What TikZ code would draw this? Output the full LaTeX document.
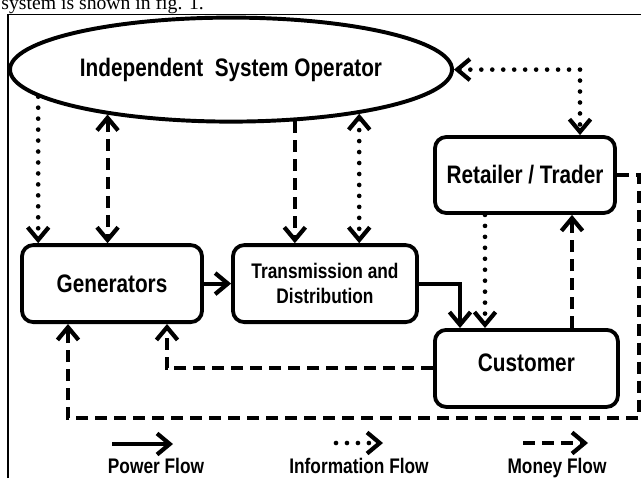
\documentclass[tikz,border=0pt]{standalone}
\usepackage{fontspec}
\setmainfont{Liberation Sans}[FakeStretch=0.82]
\newfontfamily\captionserif{Liberation Serif}
\usetikzlibrary{arrows.meta,shapes.geometric,positioning,calc}

\begin{document}
\begin{tikzpicture}[>={Straight Barb[length=9pt,width=15pt,line width=3pt]}]
\tikzstyle{process}=[draw, line width=2.7pt, rectangle, rounded corners=8pt, fill=white, minimum width=4.5cm, minimum height=1.925cm, inner sep=0pt, font=\bfseries\fontsize{18}{20}\selectfont, align=center]
\tikzstyle{process2}=[process, font=\bfseries\fontsize{15}{18}\selectfont]
\tikzstyle{operator}=[draw, line width=2.8pt, ellipse, fill=white, minimum width=11.05cm, minimum height=2.6cm, inner sep=0pt, font=\bfseries\fontsize{18}{20}\selectfont]
\tikzstyle{legendtext}=[anchor=base, font=\bfseries\fontsize{15}{18}\selectfont, inner sep=0pt]
\tikzstyle{powerArrow}=[line width=2.7pt]
\tikzstyle{infoArrow}=[line width=3.3pt, line cap=round, dash pattern=on 0pt off 7.8pt]
\tikzstyle{moneyArrow}=[line width=2.9pt, dash pattern=on 8.5pt off 5pt]

\useasboundingbox (0,0) rectangle (16.025,-11.95);
\node[anchor=base west, inner sep=0pt, font=\captionserif\fontsize{14}{16}\selectfont] (caption) at (0.03,-0.23) {system is shown in fig. 1.};
\draw[line width=1.4pt] (0.2,-11.95) |- (16.025,-0.3625);

\node[operator] (iso) at (5.775, -1.74) {Independent\ \ System Operator};
\node[process] (gen) at (2.8, -7.09) {Generators};
\node[process2, minimum width=4.6cm] (td) at (8.125, -7.09) {Transmission and\\Distribution};
\node[process, minimum height=1.9cm] (ret) at (13.125, -4.375) {Retailer / Trader};
\node[process, minimum width=4.575cm, text depth=0.3cm] (cus) at (13.16, -9.21) {Customer};
\coordinate (rc) at (15.975, -10.45);

% operator to the market players
\draw[infoArrow,->] (iso.188.7) -- (iso.188.7 |- gen.north);
\draw[moneyArrow,<->] (iso.200.4) -- (iso.200.4 |- gen.north);
\draw[moneyArrow,->] (iso.321.9) -- (iso.321.9 |- td.north);
\draw[infoArrow,<->] (iso.341.7) -- (iso.341.7 |- td.north);
\draw[infoArrow,<->] (iso.east) -| ([xshift=1.375cm]ret.north);

% power path
\draw[powerArrow,->] (gen) -- (td);
\draw[powerArrow,->] (td.east) -| ([xshift=-1.66cm]cus.north);

% retailer and customer
\draw[infoArrow,->] ([xshift=-1cm]ret.south) -- ([xshift=-1cm]ret.south |- cus.north);
\draw[moneyArrow,->] ([xshift=1.175cm]ret.south |- cus.north) -- ([xshift=1.175cm]ret.south);

% payments back to generators
\draw[moneyArrow,->] (cus.west) -| ([xshift=1.375cm]gen.south);
\draw[moneyArrow,->] (ret.east) -| (rc) -| ([xshift=-1.1cm]gen.south);

% legend
\coordinate (pa) at (2.8, -11.1);
\coordinate (pb) at (4.325, -11.1);
\coordinate (ia) at (8.4, -11.075);
\coordinate (ib) at (9.575, -11.075);
\coordinate (ma) at (13.075, -11.075);
\coordinate (mb) at (14.7, -11.075);
\draw[powerArrow,->] (pa) -- (pb);
\draw[infoArrow,->] (ia) -- (ib);
\draw[moneyArrow,->] (ma) -- (mb);
\node[legendtext] (pflow) at (3.9, -11.83) {Power Flow};
\node[legendtext] (iflow) at (8.975, -11.83) {Information Flow};
\node[legendtext] (mflow) at (13.925, -11.83) {Money Flow};

\end{tikzpicture}
\end{document}
